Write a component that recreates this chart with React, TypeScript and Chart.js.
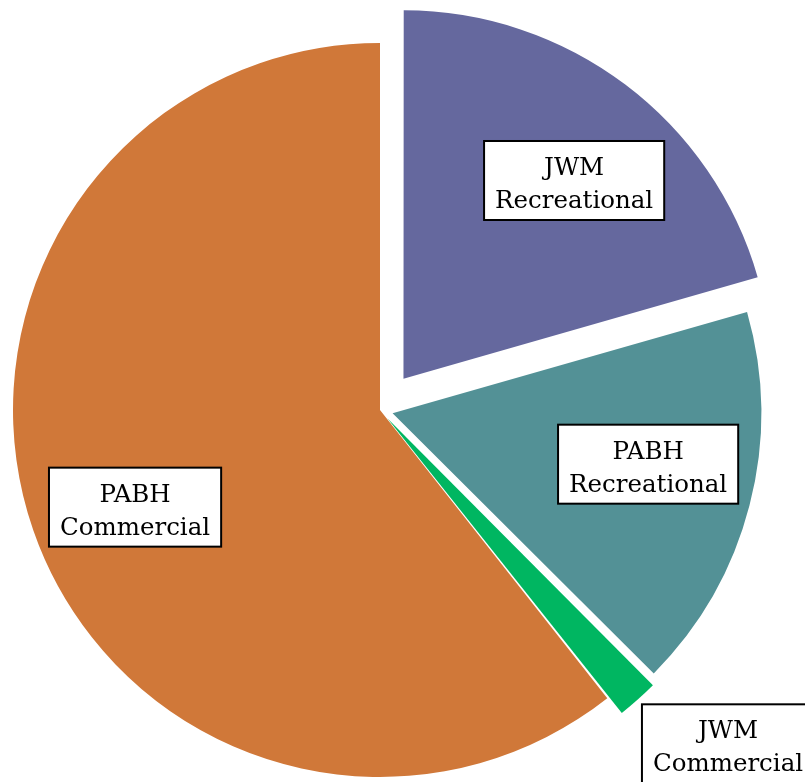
import React, { useEffect, useRef } from "react";
import { Chart, registerables } from "chart.js";

Chart.register(...registerables);

// ---- data ----
const categories = ["JWM Recreational", "PABH Recreational", "JWM Commercial", "PABH Commercial"];
const labelLines = [
  ["JWM", "Recreational"],
  ["PABH", "Recreational"],
  ["JWM", "Commercial"],
  ["PABH", "Commercial"],
];
const shares = [20.56, 16.92, 1.89, 60.63];

// ---- style ----
const colors = ["#65689E", "#539196", "#00B661", "#D07839"];
const explode = [156, 52, 44, 0];
const labelOutside = [false, false, true, false];
const labelAngleNudgeDeg = [3.7, -3.2, 0, -2.5];
const labelRadiusFrac = [0.713, 0.71, 0, 0.718];

const labelPlugin = {
  id: "boxLabels",
  afterDatasetsDraw(chart: any) {
    const ctx = chart.ctx as CanvasRenderingContext2D;
    const meta = chart.getDatasetMeta(0);
    ctx.save();
    ctx.font = "24.5px 'DejaVu Serif'";
    ctx.textAlign = "center";
    ctx.textBaseline = "alphabetic";
    meta.data.forEach((arc: any, i: number) => {
      const { x, y, startAngle, endAngle, outerRadius } = arc.getProps(
        ["x", "y", "startAngle", "endAngle", "outerRadius"],
        true
      );
      const mid = (startAngle + endAngle) / 2;
      const shift = (explode[i] || 0) / 4;
      const sx = x + Math.cos(mid) * shift;
      const sy = y + Math.sin(mid) * shift;
      const lines = labelLines[i];
      const tw = Math.max(...lines.map((l) => ctx.measureText(l).width));
      const w = tw + 22;
      const lineH = 33;
      const h = 79;
      let cx: number, cy: number;
      if (!labelOutside[i]) {
        const a = mid + (labelAngleNudgeDeg[i] * Math.PI) / 180;
        const d = labelRadiusFrac[i] * outerRadius;
        cx = sx + Math.cos(a) * d;
        cy = sy + Math.sin(a) * d;
      } else {
        const d = outerRadius + 16;
        const ax = sx + Math.cos(mid) * d;
        const ay = sy + Math.sin(mid) * d;
        cx = Math.cos(mid) >= 0 ? ax + w / 2 : ax - w / 2;
        cy = Math.sin(mid) >= 0 ? ay + h / 2 : ay - h / 2;
      }
      ctx.fillStyle = "#ffffff";
      ctx.fillRect(cx - w / 2, cy - h / 2, w, h);
      ctx.strokeStyle = "#000000";
      ctx.lineWidth = 2;
      ctx.strokeRect(cx - w / 2, cy - h / 2, w, h);
      ctx.fillStyle = "#000000";
      const firstBase = cy - 5.5 - ((lines.length - 2) * lineH) / 2;
      lines.forEach((l, k) => {
        ctx.fillText(l, cx, firstBase + k * lineH);
      });
    });
    ctx.restore();
  },
};

export default function App() {
  const ref = useRef<HTMLCanvasElement | null>(null);
  useEffect(() => {
    if (!ref.current) return;
    const chart = new Chart(ref.current, {
      type: "pie",
      data: {
        labels: categories,
        datasets: [
          {
            data: shares,
            backgroundColor: colors,
            borderWidth: 0,
            offset: explode,
            radius: 367,
          } as any,
        ],
      },
      options: {
        animation: false,
        responsive: false,
        layout: { padding: { left: 0, right: 80, top: 0, bottom: 0 } },
        plugins: {
          legend: { display: false },
          tooltip: { enabled: false },
        },
        events: [],
      },
      plugins: [labelPlugin],
    });
    return () => chart.destroy();
  }, []);
  return (
    <div
      style={{
        position: "fixed",
        left: 0,
        top: 0,
        width: 805,
        height: 782,
        overflow: "hidden",
        background: "#ffffff",
      }}
    >
      <canvas
        ref={ref}
        width={840}
        height={820}
        style={{ position: "absolute", left: 0, top: 0, display: "block" }}
      />
    </div>
  );
}
